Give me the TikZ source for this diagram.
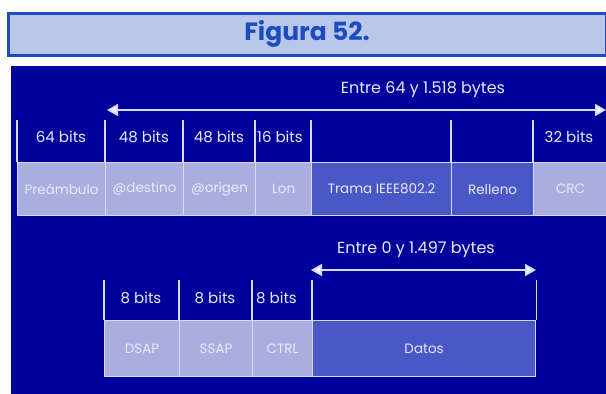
\documentclass[tikz,border=0pt]{standalone}
\usepackage{fontspec}
\setmainfont{Poppins}
\usetikzlibrary{arrows.meta}
\definecolor{panel}{HTML}{00009A}
\definecolor{lightcell}{HTML}{A9AEDF}
\definecolor{midcell}{HTML}{4A57C6}
\definecolor{linecol}{HTML}{D6DAF6}
\definecolor{titlefill}{HTML}{B9C8EA}
\definecolor{titleblue}{HTML}{1E4BC2}
\definecolor{celltext}{HTML}{E8EAFB}
\begin{document}
\begin{tikzpicture}[x=1pt,y=-1pt,
  cellbox/.style={draw=linecol,line width=1.2pt,anchor=north west,inner sep=0pt,
    text=celltext,font=\fontsize{13.5}{15}\selectfont},
  bitlabel/.style={text=celltext,font=\fontsize{15}{17}\selectfont,inner sep=0pt},
  sepline/.style={draw=linecol,line width=1.2pt},
  sizearrow/.style={draw=linecol,line width=1.8pt,{Triangle[width=12pt,length=11pt,fill=white]}-{Triangle[width=12pt,length=11pt,fill=white]}},
  spanlabel/.style={text=celltext,font=\fontsize{16}{18}\selectfont,inner sep=0pt}]
\useasboundingbox (0,0) rectangle (606,394);
\fill[white] (0,0) rectangle (606,394);
% title
\node[draw=titleblue,line width=3pt,fill=titlefill,anchor=north west,minimum width=598pt,minimum height=42pt,inner sep=0pt,
  text=titleblue,font=\fontsize{25}{28}\selectfont\bfseries] (title) at (6.5,11.5) {Figura 52.};
% panel
\fill[panel] (11,66) rectangle (606,394);
% upper frame
\coordinate (ua) at (107,110);
\coordinate (ub) at (606,110);
\draw[sizearrow] (ua) -- (ub);
\node[spanlabel] (uspan) at (423,90) {Entre 64 y 1.518 bytes};
% upper bottom row cells
\node[cellbox,fill=lightcell,minimum width=88pt,minimum height=53pt] (pre) at (17,162) {Preámbulo};
\node[cellbox,fill=lightcell,minimum width=78pt,minimum height=53pt] (dst) at (105,162) {@destino};
\node[cellbox,fill=lightcell,minimum width=72pt,minimum height=53pt] (org) at (183,162) {@origen};
\node[cellbox,fill=lightcell,minimum width=56pt,minimum height=53pt] (lon) at (255,162) {Lon};
\node[cellbox,fill=midcell,minimum width=140pt,minimum height=53pt] (trama) at (311,162) {Trama IEEE802.2};
\node[cellbox,fill=midcell,minimum width=82pt,minimum height=53pt] (rell) at (451,162) {Relleno};
\node[cellbox,fill=lightcell,minimum width=74pt,minimum height=53pt] (crc) at (533,162) {CRC};
% upper separators in top row
\foreach \n in {pre,dst,org,lon,trama,rell,crc}
  \draw[sepline] (\n.north west) -- ++(0,-42);
% upper top row labels
\node[bitlabel] (b64) at (61,137) {64 bits};
\node[bitlabel] (b48a) at (144,137) {48 bits};
\node[bitlabel] (b48b) at (219,137) {48 bits};
\node[bitlabel,anchor=west] (b16) at (257,137) {16 bits};
\fill[panel] (312,120) rectangle (340,158);
\draw[sepline] (trama.north west) -- ++(0,-42);
\node[bitlabel] (b32) at (569,137) {32 bits};
% lower frame
\coordinate (la) at (311,270);
\coordinate (lb) at (536,270);
\draw[sizearrow] (la) -- (lb);
\node[spanlabel] (lspan) at (416,250) {Entre 0 y 1.497 bytes};
\node[cellbox,fill=lightcell,minimum width=75pt,minimum height=56pt] (dsap) at (104,320) {DSAP};
\node[cellbox,fill=lightcell,minimum width=73pt,minimum height=56pt] (ssap) at (179,320) {SSAP};
\node[cellbox,fill=lightcell,minimum width=60pt,minimum height=56pt] (ctrl) at (252,320) {CTRL};
\node[cellbox,fill=midcell,minimum width=223pt,minimum height=56pt] (datos) at (312,320) {Datos};
\foreach \n in {dsap,ssap,ctrl,datos}
  \draw[sepline] (\n.north west) -- ++(0,-40);
\draw[sepline] (datos.north east) -- ++(0,-40);
\node[bitlabel] (c1) at (141,298) {8 bits};
\node[bitlabel] (c2) at (215,298) {8 bits};
\node[bitlabel,anchor=west] (c3) at (256,298) {8 bits};
\fill[panel] (313,282) rectangle (340,318);
\draw[sepline] (datos.north west) -- ++(0,-40);
\end{tikzpicture}
\end{document}
